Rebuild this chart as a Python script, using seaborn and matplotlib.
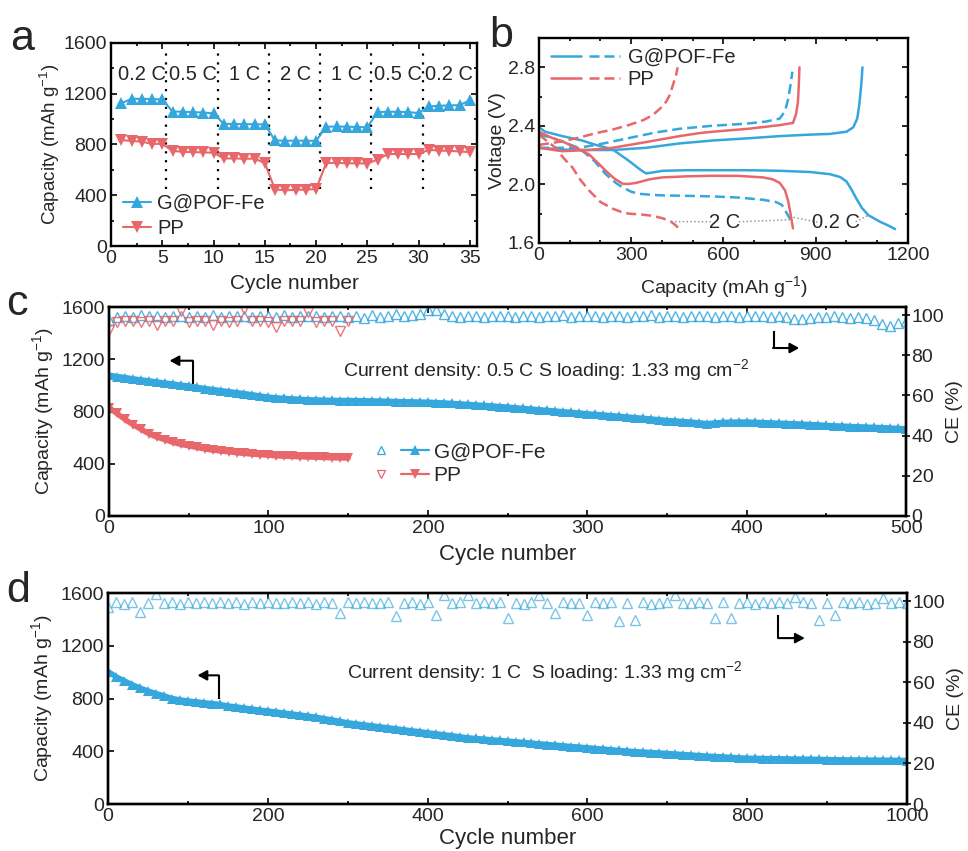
import matplotlib
matplotlib.use("Agg")
import matplotlib.pyplot as plt
import seaborn as sns
from matplotlib.legend_handler import HandlerTuple
from matplotlib.lines import Line2D
from matplotlib.ticker import AutoMinorLocator, FormatStrFormatter, MultipleLocator

# ---------------- panel a: rate capability ----------------
rate_cycles = list(range(1, 36))
gpof_rate = [1125, 1160, 1160, 1158, 1155, 1060, 1058, 1055, 1052, 1045,
             962, 962, 960, 960, 958, 832, 830, 830, 830, 828,
             940, 942, 940, 938, 935, 1055, 1058, 1058, 1055, 1048,
             1100, 1105, 1108, 1110, 1148]
pp_rate = [835, 828, 822, 805, 805, 750, 742, 740, 738, 735,
           690, 690, 688, 688, 655, 445, 440, 442, 445, 448,
           655, 655, 652, 652, 650, 680, 725, 725, 725, 725,
           758, 752, 750, 745, 740]
rate_labels = ["0.2 C", "0.5 C", "1 C", "2 C", "1 C", "0.5 C", "0.2 C"]
rate_centers = [3, 8, 13, 18, 23, 28, 33]
rate_breaks = [5.4, 10.4, 15.4, 20.4, 25.4, 30.4]

# ---------------- panel b: voltage profiles ----------------
g02_dis_cap = [0, 20, 76, 140, 185, 239, 293, 330, 348, 380, 402, 480, 565, 680, 783,
               880, 946, 980, 1000, 1015, 1033, 1050, 1071, 1109, 1135, 1158]
g02_dis_v = [2.39, 2.36, 2.33, 2.30, 2.27, 2.24, 2.16, 2.10, 2.075, 2.085, 2.093, 2.097,
             2.097, 2.097, 2.093, 2.085, 2.07, 2.05, 2.02, 1.97, 1.90, 1.84, 1.79, 1.745,
             1.72, 1.695]
g02_chg_cap = [0, 76, 160, 239, 348, 457, 565, 680, 783, 880, 946, 1000, 1022, 1035,
               1042, 1048, 1052]
g02_chg_v = [2.25, 2.238, 2.235, 2.235, 2.25, 2.28, 2.30, 2.315, 2.33, 2.34, 2.345, 2.36,
             2.39, 2.45, 2.55, 2.68, 2.80]
g2_dis_cap = [0, 40, 76, 130, 180, 217, 250, 272, 300, 326, 370, 402, 480, 565, 650, 728,
              770, 790, 804, 815, 822]
g2_dis_v = [2.34, 2.32, 2.29, 2.25, 2.16, 2.07, 2.01, 1.98, 1.95, 1.936, 1.928, 1.925,
            1.922, 1.918, 1.91, 1.895, 1.88, 1.86, 1.81, 1.77, 1.74]
g2_chg_cap = [0, 60, 130, 210, 293, 380, 457, 560, 674, 740, 783, 800, 810, 818, 824]
g2_chg_v = [2.25, 2.25, 2.25, 2.28, 2.317, 2.355, 2.38, 2.40, 2.415, 2.43, 2.45, 2.50,
            2.58, 2.68, 2.77]
p02_dis_cap = [0, 40, 76, 120, 163, 190, 217, 245, 272, 290, 315, 360, 402, 480, 565, 650,
               728, 760, 783, 800, 810, 818, 826]
p02_dis_v = [2.36, 2.32, 2.294, 2.25, 2.205, 2.15, 2.093, 2.04, 2.005, 2.003, 2.01, 2.035,
             2.048, 2.055, 2.059, 2.058, 2.048, 2.035, 2.01, 1.96, 1.89, 1.80, 1.70]
p02_chg_cap = [0, 76, 160, 239, 350, 457, 520, 565, 680, 783, 826, 836, 842, 845, 847]
p02_chg_v = [2.25, 2.227, 2.235, 2.25, 2.29, 2.33, 2.35, 2.36, 2.38, 2.405, 2.42, 2.48,
             2.56, 2.68, 2.80]
p2_dis_cap = [0, 30, 54, 80, 109, 135, 163, 200, 239, 270, 293, 330, 370, 400, 429, 445, 457]
p2_dis_v = [2.34, 2.29, 2.25, 2.18, 2.115, 2.03, 1.958, 1.88, 1.835, 1.81, 1.80, 1.795,
            1.785, 1.77, 1.746, 1.72, 1.694]
p2_chg_cap = [0, 76, 130, 185, 240, 293, 340, 370, 395, 413, 425, 435, 445, 451]
p2_chg_v = [2.27, 2.294, 2.32, 2.35, 2.375, 2.406, 2.44, 2.474, 2.52, 2.563, 2.61, 2.675,
            2.74, 2.80]

# ---------------- panel c: 0.5 C cycling ----------------
c_cycles = list(range(0, 501, 5))
c_gpof_cap = [1078, 1068, 1060, 1050, 1042, 1035, 1026, 1018, 1010, 1002, 995,
              985, 976, 968, 960, 952, 944, 936, 928, 918, 910,
              904, 900, 896, 893, 890, 888, 886, 885, 884, 884,
              883, 882, 881, 880, 878, 876, 875, 874, 872, 871,
              868, 865, 862, 858, 854, 850, 846, 842, 838, 833,
              828, 823, 818, 813, 808, 803, 798, 793, 788, 782,
              778, 773, 768, 763, 758, 753, 748, 742, 737, 731,
              727, 723, 718, 714, 706, 712, 716, 718, 719, 719,
              717, 715, 712, 710, 708, 706, 703, 700, 697, 693,
              690, 688, 685, 683, 680, 678, 676, 673, 670, 668]
c_gpof_ce = [97.5, 99.2, 99.6, 99.0, 99.8, 99.3, 99.5, 98.9, 99.7, 99.4, 99.1,
             99.6, 99.2, 99.8, 99.0, 99.5, 99.3, 99.7, 99.1, 99.4, 99.6,
             99.2, 99.8, 99.0, 99.5, 99.3, 99.7, 99.1, 99.4, 99.6, 99.2,
             99.5, 98.6, 99.9, 99.2, 99.6, 100.3, 99.4, 99.8, 100.6, 102.4,
             102.3, 100.4, 99.6, 99.2, 99.7, 99.4, 99.1, 99.6, 99.3, 99.5,
             99.2, 99.7, 99.4, 99.0, 99.6, 99.3, 99.8, 99.1, 99.5, 99.3,
             99.6, 99.2, 99.7, 99.4, 99.0, 99.5, 99.3, 99.8, 99.2, 99.6,
             99.4, 99.1, 99.7, 99.3, 99.5, 99.2, 99.6, 99.4, 99.0, 99.5,
             99.3, 99.6, 99.1, 99.4, 98.8, 98.2, 97.9, 98.4, 98.9, 99.2,
             99.5, 99.0, 98.6, 99.1, 98.4, 97.5, 95.5, 94.8, 96.2, 97.0]
c_pp_cycles = list(range(0, 151, 5))
c_pp_cap = [830, 785, 740, 700, 665, 630, 604, 585, 565, 548, 538,
            525, 514, 505, 498, 492, 485, 479, 474, 470, 466,
            461, 458, 456, 454, 452, 450, 448, 446, 445, 444]
c_pp_ce = [92.5, 96.8, 96.9, 97.0, 96.8, 97.1, 95.3, 96.9, 97.0, 102.0, 96.8,
           97.0, 96.9, 95.3, 97.0, 96.8, 97.1, 103.0, 96.9, 97.0, 96.8,
           94.1, 97.0, 96.9, 97.1, 101.7, 96.8, 97.0, 96.9, 92.1, 97.0]

# ---------------- panel d: 1 C cycling ----------------
d_cycles = list(range(0, 1001, 10))
d_gpof_cap = [1005, 965, 935, 905, 880, 857, 838, 820, 800, 790, 781,
              775, 768, 762, 755, 743, 737, 728, 720, 712, 705,
              698, 690, 682, 675, 667, 658, 648, 638, 627, 616,
              608, 600, 593, 585, 578, 570, 563, 555, 548, 540,
              533, 525, 518, 510, 502, 497, 492, 487, 482, 477,
              472, 467, 462, 456, 451, 446, 441, 436, 431, 426,
              421, 416, 411, 406, 401, 397, 394, 390, 387, 383,
              379, 375, 371, 367, 363, 360, 357, 353, 350, 347,
              346, 345, 344, 343, 342, 341, 340, 339, 338, 337,
              336, 335, 334, 334, 333, 333, 332, 332, 331, 330]
d_gpof_ce = [97.0, 99.5, 98.8, 99.6, 94.5, 99.2, 103.6, 99.0, 99.7, 98.6, 99.4,
             99.1, 99.8, 98.9, 99.5, 99.2, 99.7, 98.8, 99.4, 99.0, 99.6,
             99.3, 98.9, 99.7, 99.1, 99.5, 98.8, 99.4, 99.2, 94.2, 99.6,
             99.0, 99.5, 98.9, 99.3, 99.7, 92.5, 99.1, 99.4, 98.8, 99.5,
             93.4, 103.0, 99.2, 99.6, 103.2, 98.9, 99.4, 99.1, 99.7, 91.7,
             99.3, 98.8, 99.5, 103.0, 99.0, 94.2, 99.6, 99.2, 98.9, 93.0,
             99.4, 99.1, 99.7, 90.0, 99.0, 90.9, 99.5, 98.8, 99.3, 99.6,
             103.0, 99.2, 98.9, 99.5, 99.1, 91.7, 99.6, 91.7, 99.0, 99.4,
             98.8, 99.5, 99.2, 99.7, 99.0, 102.0, 99.4, 98.9, 90.9, 99.3,
             93.4, 99.6, 99.1, 99.5, 98.8, 99.2, 101.8, 99.0, 99.4, 99.1]

BLUE = "#35a7dd"
RED = "#e8676a"
CAP_LABEL = "Capacity (mAh g$^{-1}$)"


def box(ax, size=14):
    for s in ax.spines.values():
        s.set_visible(True)
        s.set_linewidth(1.7)
        s.set_color("black")
    ax.tick_params(which="both", direction="in", labelsize=size, width=1.4,
                   top=True, right=True, pad=3)
    ax.tick_params(which="major", length=4)
    ax.tick_params(which="minor", length=2.5)


def line(ax, x, y, color, **kw):
    sns.lineplot(x=x, y=y, color=color, sort=False, estimator=None, ax=ax,
                 legend=False, **kw)


def l_arrow(ax, x0, y0, y1, x1):
    ax.plot([x0, x0], [y0, y1], color="black", lw=1.5, solid_capstyle="butt")
    ax.annotate("", xy=(x1, y1), xytext=(x0 - 0.4, y1),
                arrowprops=dict(arrowstyle="-|>,head_length=0.55,head_width=0.3",
                                color="black", lw=1.5, shrinkA=0, shrinkB=0))


sns.set_style("ticks")
plt.rcParams["font.family"] = ["Liberation Sans", "DejaVu Sans"]
plt.rcParams["mathtext.fontset"] = "custom"
plt.rcParams["mathtext.rm"] = "Liberation Sans"
plt.rcParams["mathtext.it"] = "Liberation Sans:italic"
plt.rcParams["axes.unicode_minus"] = False

fig = plt.figure(figsize=(9.68, 8.51), dpi=100)
ax_a = fig.add_axes([0.1147, 0.7109, 0.378, 0.2386])
ax_b = fig.add_axes([0.5568, 0.7145, 0.3812, 0.2408])
ax_c = fig.add_axes([0.1126, 0.3937, 0.8234, 0.2455])
ax_d = fig.add_axes([0.1116, 0.0552, 0.8254, 0.2479])

# ---- a ----
ax_a.vlines(rate_breaks, 450, 1560, colors="black", linestyles=(0, (1, 3)), lw=1.6)
line(ax_a, rate_cycles, gpof_rate, BLUE, marker="^", ms=8, mew=0, lw=1.5)
line(ax_a, rate_cycles, pp_rate, RED, marker="v", ms=8, mew=0, lw=1.5)
for xc, lab in zip(rate_centers, rate_labels):
    ax_a.text(xc, 1355, lab, ha="center", va="center", fontsize=14.5)
ax_a.set_xlim(0, 35.7)
ax_a.set_ylim(0, 1600)
ax_a.xaxis.set_major_locator(MultipleLocator(5))
ax_a.yaxis.set_major_locator(MultipleLocator(400))
ax_a.xaxis.set_minor_locator(AutoMinorLocator(2))
ax_a.yaxis.set_minor_locator(AutoMinorLocator(2))
box(ax_a)
ax_a.set_xlabel("Cycle number", fontsize=15, labelpad=5)
ax_a.set_ylabel(CAP_LABEL, fontsize=13.5, labelpad=1)
ax_a.legend([Line2D([], [], color=BLUE, marker="^", ms=8, mew=0, lw=1.5),
             Line2D([], [], color=RED, marker="v", ms=8, mew=0, lw=1.5)],
            ["G@POF-Fe", "PP"], loc="lower left", bbox_to_anchor=(0.0, -0.02),
            frameon=False, fontsize=14.5, handlelength=1.4, handletextpad=0.3,
            labelspacing=0.3, borderaxespad=0.2)

# ---- b ----
dash = (0, (4, 2))
line(ax_b, g02_dis_cap, g02_dis_v, BLUE, lw=1.8)
line(ax_b, g02_chg_cap, g02_chg_v, BLUE, lw=1.8)
line(ax_b, g2_dis_cap, g2_dis_v, BLUE, lw=1.8, linestyle=dash)
line(ax_b, g2_chg_cap, g2_chg_v, BLUE, lw=1.8, linestyle=dash)
line(ax_b, p02_dis_cap, p02_dis_v, RED, lw=1.8)
line(ax_b, p02_chg_cap, p02_chg_v, RED, lw=1.8)
line(ax_b, p2_dis_cap, p2_dis_v, RED, lw=1.8, linestyle=dash)
line(ax_b, p2_chg_cap, p2_chg_v, RED, lw=1.8, linestyle=dash)
for xs, ys in [([430, 560], [1.746, 1.745]), ([650, 815], [1.745, 1.758]),
               ([828, 905], [1.775, 1.742]), ([1030, 1072], [1.745, 1.79])]:
    ax_b.plot(xs, ys, color="#9a9a9a", lw=1.1, linestyle=(0, (1, 1.5)))
ax_b.text(605, 1.739, "2 C", ha="center", va="center", fontsize=14.5)
ax_b.text(967, 1.739, "0.2 C", ha="center", va="center", fontsize=14.5)
ax_b.set_xlim(0, 1200)
ax_b.set_ylim(1.6, 3.0)
ax_b.xaxis.set_major_locator(MultipleLocator(300))
ax_b.xaxis.set_minor_locator(MultipleLocator(100))
ax_b.yaxis.set_major_locator(MultipleLocator(0.4))
ax_b.yaxis.set_minor_locator(MultipleLocator(0.2))
ax_b.yaxis.set_major_formatter(FormatStrFormatter("%.1f"))
box(ax_b)
ax_b.set_xlabel(CAP_LABEL, fontsize=14, labelpad=7)
ax_b.set_ylabel("Voltage (V)", fontsize=14, labelpad=1)
hb = [(Line2D([], [], color=BLUE, lw=1.8), Line2D([], [], color=BLUE, lw=1.8, linestyle=dash)),
      (Line2D([], [], color=RED, lw=1.8), Line2D([], [], color=RED, lw=1.8, linestyle=dash))]
ax_b.legend(hb, ["G@POF-Fe", "PP"], loc="upper left", bbox_to_anchor=(0.0, 1.01),
            frameon=False, fontsize=14.5, handlelength=3.4, handletextpad=0.4,
            labelspacing=0.15, borderaxespad=0.2,
            handler_map={tuple: HandlerTuple(ndivide=None, pad=0.4)})

# ---- c ----
ax_c2 = ax_c.twinx()
line(ax_c, c_cycles, c_gpof_cap, BLUE, marker="^", ms=6.5, mew=0, lw=4)
line(ax_c, c_pp_cycles, c_pp_cap, RED, marker="v", ms=6.5, mew=0, lw=4)
line(ax_c2, c_cycles, c_gpof_ce, BLUE, marker="^", ms=7.5, mew=1.0, mfc="none",
     mec=BLUE, linestyle="", alpha=0.85)
line(ax_c2, c_pp_cycles, c_pp_ce, RED, marker="v", ms=7.5, mew=1.0, mfc="none",
     mec=RED, linestyle="", alpha=0.9)

# ---- d ----
ax_d2 = ax_d.twinx()
line(ax_d, d_cycles, d_gpof_cap, BLUE, marker="^", ms=6.5, mew=0, lw=4)
line(ax_d2, d_cycles, d_gpof_ce, BLUE, marker="^", ms=7.5, mew=1.0, mfc="none",
     mec=BLUE, linestyle="", alpha=0.65)

for ax, ax2, xmax, xstep in [(ax_c, ax_c2, 500, 100), (ax_d, ax_d2, 1000, 200)]:
    ax.set_xlim(0, xmax)
    ax.set_ylim(0, 1600)
    ax2.set_ylim(0, 104)
    ax.xaxis.set_major_locator(MultipleLocator(xstep))
    ax.xaxis.set_minor_locator(AutoMinorLocator(2))
    ax.yaxis.set_major_locator(MultipleLocator(400))
    ax2.yaxis.set_major_locator(MultipleLocator(20))
    box(ax)
    box(ax2)
    ax.tick_params(which="both", right=False)
    ax2.tick_params(which="both", left=False, top=False, bottom=False,
                    labelleft=False, labelright=True, right=True, direction="inout",
                    length=6, pad=1)
    ax.set_ylabel(CAP_LABEL, fontsize=14, labelpad=4)
    ax2.set_ylabel("CE (%)", fontsize=14, labelpad=1)

ax_c.set_xlabel("Cycle number", fontsize=16, labelpad=5)
ax_d.set_xlabel("Cycle number", fontsize=16, labelpad=2)
ax_c.text(274, 1115, "Current density: 0.5 C S loading: 1.33 mg cm$^{-2}$",
          ha="center", va="center", fontsize=14)
ax_d.text(547, 1000, "Current density: 1 C  S loading: 1.33 mg cm$^{-2}$",
          ha="center", va="center", fontsize=14)
l_arrow(ax_c, 53, 1010, 1189, 38)
l_arrow(ax_c2, 417, 92, 83.6, 433)
l_arrow(ax_d, 139, 794, 976, 112)
l_arrow(ax_d2, 839, 93, 81.8, 872)

hc = [(Line2D([], [], color=BLUE, marker="^", ms=6, mfc="none", mew=0.9, linestyle=""),
       Line2D([], [], color=BLUE, marker="^", ms=7, mew=0, lw=1.6)),
      (Line2D([], [], color=RED, marker="v", ms=6, mfc="none", mew=0.9, linestyle=""),
       Line2D([], [], color=RED, marker="v", ms=7, mew=0, lw=1.6))]
ax_c2.legend(hc, ["G@POF-Fe", "PP"], loc="center left", bbox_to_anchor=(0.30, 0.25),
             frameon=False, fontsize=15, handlelength=3.0, handletextpad=0.2,
             labelspacing=0.2, handler_map={tuple: HandlerTuple(ndivide=None, pad=0.3)})

# panel letters
for x, y, s in [(0.010, 0.941, "a"), (0.505, 0.945, "b"), (0.006, 0.630, "c"),
                (0.006, 0.293, "d")]:
    fig.text(x, y, s, fontsize=31, va="baseline", ha="left")

fig.savefig("out.png", dpi=100)
plt.close(fig)
